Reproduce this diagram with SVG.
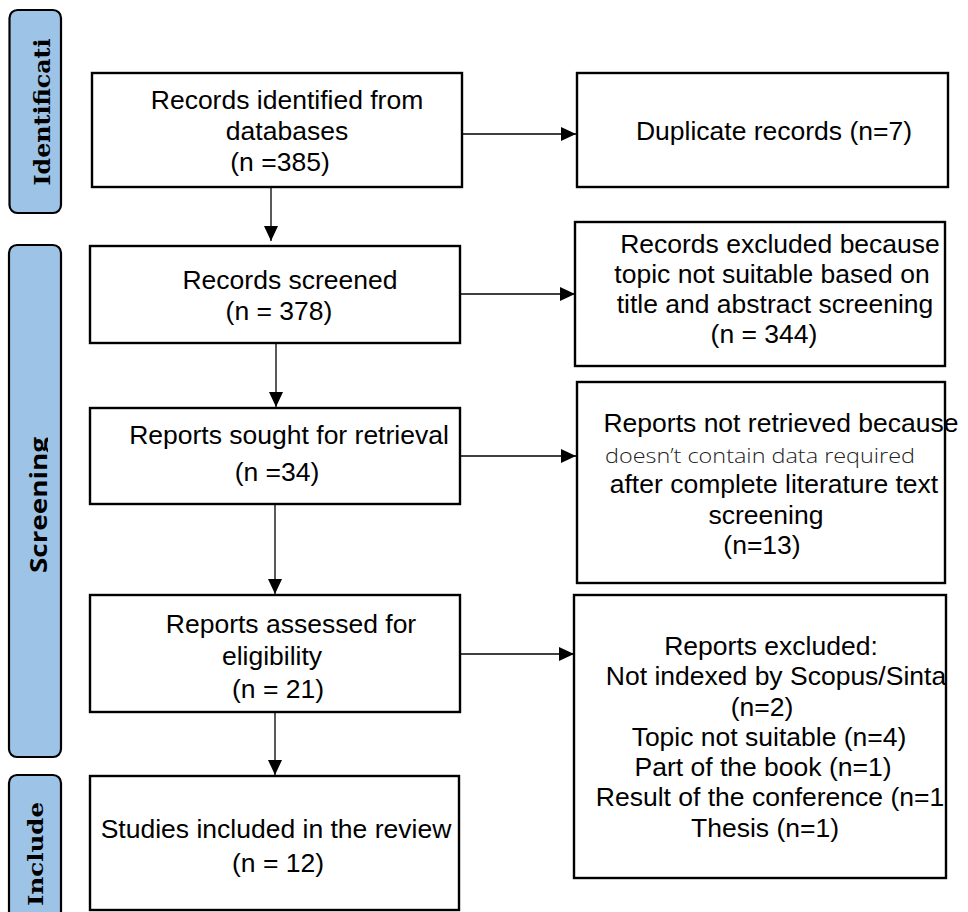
<svg xmlns="http://www.w3.org/2000/svg" width="968" height="912" viewBox="0 0 968 912">
<style>
.box{fill:#fff;stroke:#000;stroke-width:2.4}
.bar{fill:#9dc3e6;stroke:#000;stroke-width:2.2}
.t{font-family:"Liberation Sans",Arial,sans-serif;font-size:26.5px;fill:#000;text-anchor:middle}
.thin{font-family:"Open Sans","DejaVu Sans",sans-serif;font-weight:300;font-size:21px;fill:#222}
.con{stroke:#000;stroke-width:1.3;fill:none;marker-end:url(#ah)}
.side{font-weight:bold;fill:#000;text-anchor:middle}
</style>
<defs>
<marker id="ah" markerUnits="userSpaceOnUse" markerWidth="15" markerHeight="14" refX="15" refY="7" orient="auto">
<path d="M0,0 L15,7 L0,14 z" fill="#000"/>
</marker>
<clipPath id="scrclip"><rect x="0" y="240" width="48" height="520"/></clipPath>
</defs>
<rect width="968" height="912" fill="#fff"/>

<g id="phase-identification">
<rect class="bar" x="9.5" y="10" width="51.5" height="203" rx="8"/>
<text class="side" transform="translate(50,112) rotate(-90)" font-family="'DejaVu Serif','Liberation Serif',serif" font-size="21.5" textLength="147" lengthAdjust="spacingAndGlyphs">Identificati</text>
</g>
<g id="phase-screening">
<rect class="bar" x="9" y="245" width="52" height="512" rx="8"/>
<g clip-path="url(#scrclip)">
<text class="side" transform="translate(47,505) rotate(-90)" font-family="'Open Sans','DejaVu Sans',sans-serif" font-size="24" textLength="136" lengthAdjust="spacingAndGlyphs">Screening</text>
</g>
</g>
<g id="phase-include">
<rect class="bar" x="9" y="775" width="52" height="145" rx="8"/>
<text class="side" transform="translate(43,854) rotate(-90)" font-family="'DejaVu Serif','Liberation Serif',serif" font-size="21" textLength="104" lengthAdjust="spacingAndGlyphs">Include</text>
</g>

<g id="connectors">
<line class="con" x1="462" y1="134" x2="576" y2="134"/>
<line class="con" x1="271" y1="187" x2="271" y2="241"/>
<line class="con" x1="460" y1="294" x2="575" y2="294"/>
<line class="con" x1="276" y1="343" x2="276" y2="407"/>
<line class="con" x1="460" y1="456" x2="576" y2="456"/>
<line class="con" x1="275" y1="504" x2="275" y2="594"/>
<line class="con" x1="460" y1="654" x2="574" y2="654"/>
<line class="con" x1="275" y1="712" x2="275" y2="775"/>
</g>

<g id="records-identified">
<rect class="box" x="92" y="73" width="370" height="114"/>
<text class="t" x="287" y="109">Records identified from</text>
<text class="t" x="287" y="140">databases</text>
<text class="t" x="280" y="171">(n =385)</text>
</g>
<g id="duplicate-records">
<rect class="box" x="577" y="73" width="371" height="114"/>
<text class="t" x="774" y="140">Duplicate records (n=7)</text>
</g>
<g id="records-screened">
<rect class="box" x="90" y="246" width="370" height="97"/>
<text class="t" x="290" y="289">Records screened</text>
<text class="t" x="279" y="320">(n = 378)</text>
</g>
<g id="records-excluded">
<rect class="box" x="575" y="222" width="370" height="144"/>
<text class="t" x="780" y="253">Records excluded because</text>
<text class="t" x="772" y="283">topic not suitable based on</text>
<text class="t" x="775" y="313">title and abstract screening</text>
<text class="t" x="764" y="343">(n = 344)</text>
</g>
<g id="reports-sought">
<rect class="box" x="90" y="408" width="370" height="96"/>
<text class="t" x="289" y="444">Reports sought for retrieval</text>
<text class="t" x="277" y="481">(n =34)</text>
</g>
<g id="reports-not-retrieved">
<rect class="box" x="577" y="382" width="368" height="201"/>
<text class="t" x="781" y="432">Reports not retrieved because</text>
<text class="thin" x="605" y="463" textLength="310" lengthAdjust="spacingAndGlyphs">doesn’t contain data required</text>
<text class="t" x="774" y="493">after complete literature text</text>
<text class="t" x="766" y="524">screening</text>
<text class="t" x="762" y="554">(n=13)</text>
</g>
<g id="reports-assessed">
<rect class="box" x="90" y="595" width="370" height="117"/>
<text class="t" x="291" y="633">Reports assessed for</text>
<text class="t" x="272" y="665">eligibility</text>
<text class="t" x="278" y="698">(n = 21)</text>
</g>
<g id="reports-excluded">
<rect class="box" x="574" y="595" width="372" height="283"/>
<text class="t" x="771" y="655">Reports excluded:</text>
<text class="t" x="776" y="685">Not indexed by Scopus/Sinta</text>
<text class="t" x="762" y="716">(n=2)</text>
<text class="t" x="769" y="746">Topic not suitable (n=4)</text>
<text class="t" x="763" y="776">Part of the book (n=1)</text>
<text class="t" x="770" y="806">Result of the conference (n=1</text>
<text class="t" x="765" y="837">Thesis (n=1)</text>
</g>
<g id="studies-included">
<rect class="box" x="90" y="776" width="369" height="134"/>
<text class="t" x="276" y="838">Studies included in the review</text>
<text class="t" x="278" y="872">(n = 12)</text>
</g>
</svg>
